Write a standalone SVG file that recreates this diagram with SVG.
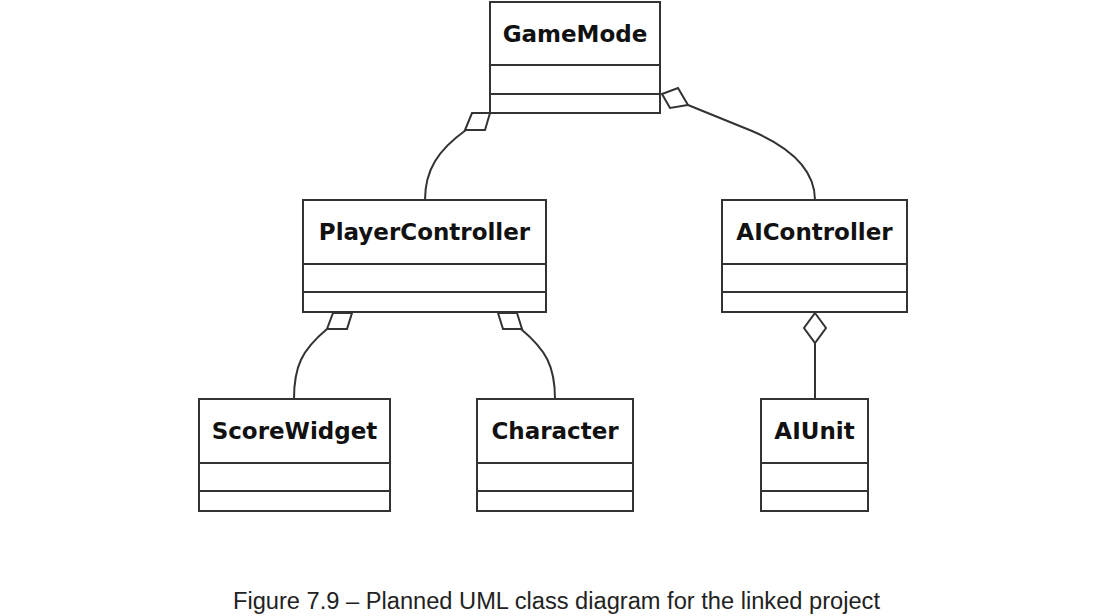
<svg xmlns="http://www.w3.org/2000/svg" width="1095" height="616" viewBox="0 0 1095 616">
<style>
.box{fill:#fff;stroke:#333;stroke-width:2}
.div{stroke:#333;stroke-width:2}
.lbl{font-family:"DejaVu Sans",sans-serif;font-weight:bold;font-size:23px;fill:#111;text-anchor:middle}
.conn{fill:none;stroke:#333;stroke-width:2}
.dia{fill:#fff;stroke:#333;stroke-width:2;stroke-linejoin:miter}
.cap{font-family:"Liberation Sans",sans-serif;font-size:23px;fill:#222}
</style>
<rect width="1095" height="616" fill="#fff"/>
<g id="connectors">
<path class="conn" d="M466,130 C438,150 425,170 425,200"/>
<path class="conn" d="M688,105 L752,131 Q815,158 815,200"/>
<path class="conn" d="M327,329 C302,350 294,366 294,399"/>
<path class="conn" d="M521,329 C546,350 555,366 555,399"/>
<path class="conn" d="M815,343 L815,399"/>
<polygon class="dia" points="472,113 490,113 485,130 465,130"/>
<polygon class="dia" points="662,94 678,88 688,105 670,108"/>
<polygon class="dia" points="333,313 352,313 347,329 327,329"/>
<polygon class="dia" points="498,313 517,313 522,329 503,329"/>
<polygon class="dia" points="815,313 826,328 815,343 804,328"/>
</g>
<g id="GameMode">
<rect class="box" x="490" y="2" width="170" height="111"/>
<line class="div" x1="490" y1="65" x2="660" y2="65"/>
<line class="div" x1="490" y1="94" x2="660" y2="94"/>
<text class="lbl" x="575" y="42">GameMode</text>
</g>
<g id="PlayerController">
<rect class="box" x="303" y="200" width="243" height="112"/>
<line class="div" x1="303" y1="264" x2="546" y2="264"/>
<line class="div" x1="303" y1="292" x2="546" y2="292"/>
<text class="lbl" x="424.5" y="240">PlayerController</text>
</g>
<g id="AIController">
<rect class="box" x="722" y="200" width="185" height="112"/>
<line class="div" x1="722" y1="264" x2="907" y2="264"/>
<line class="div" x1="722" y1="292" x2="907" y2="292"/>
<text class="lbl" x="814.5" y="240">AIController</text>
</g>
<g id="ScoreWidget">
<rect class="box" x="199" y="399" width="191" height="112"/>
<line class="div" x1="199" y1="463" x2="390" y2="463"/>
<line class="div" x1="199" y1="491" x2="390" y2="491"/>
<text class="lbl" x="294.5" y="439">ScoreWidget</text>
</g>
<g id="Character">
<rect class="box" x="477" y="399" width="156" height="112"/>
<line class="div" x1="477" y1="463" x2="633" y2="463"/>
<line class="div" x1="477" y1="491" x2="633" y2="491"/>
<text class="lbl" x="555" y="439">Character</text>
</g>
<g id="AIUnit">
<rect class="box" x="761" y="399" width="107" height="112"/>
<line class="div" x1="761" y1="463" x2="868" y2="463"/>
<line class="div" x1="761" y1="491" x2="868" y2="491"/>
<text class="lbl" x="814.5" y="439">AIUnit</text>
</g>
<text class="cap" x="233" y="609" textLength="647" lengthAdjust="spacingAndGlyphs">Figure 7.9 – Planned UML class diagram for the linked project</text>
</svg>
